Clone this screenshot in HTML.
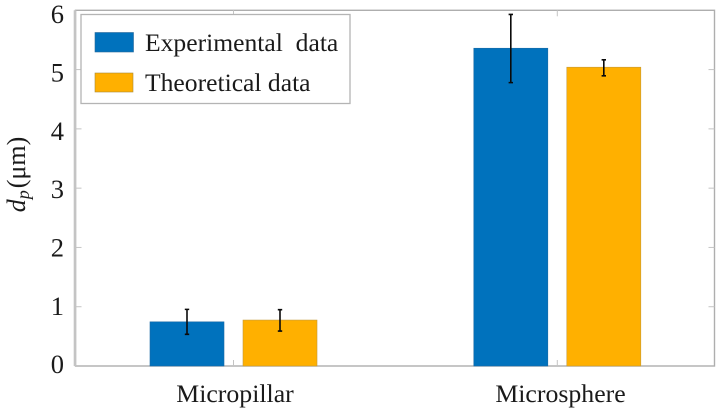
<!DOCTYPE html>
<html>
<head>
<meta charset="utf-8">
<style>
html,body{margin:0;padding:0;background:#fff;width:725px;height:410px;overflow:hidden}
svg{display:block;filter:blur(0.35px)}
text{font-family:"Liberation Serif",serif;fill:#1a1a1a}
</style>
</head>
<body>
<svg id="chart" width="725" height="410" viewBox="0 0 725 410" xmlns="http://www.w3.org/2000/svg">
<g id="plot"></g>
<g id="legend">
<rect x="81" y="14.5" width="269" height="89" fill="#fff" stroke="#b4b4b4" stroke-width="1.3"/>
<rect x="95" y="32.5" width="38.5" height="19.5" fill="#0072bd" stroke="#2a6a9a" stroke-width="0.6"/>
<text x="145" y="51" font-size="25.6" xml:space="preserve" style="white-space:pre">Experimental  data</text>
<rect x="95" y="73" width="38" height="19" fill="#ffb000" stroke="#a88a3a" stroke-width="0.6"/>
<text x="145" y="91" font-size="25.6">Theoretical data</text>
</g>
<text transform="translate(25,174.5) rotate(-90)" text-anchor="middle" font-size="26"><tspan font-style="italic">d</tspan><tspan font-style="italic" font-size="18" dy="4">p</tspan><tspan dy="-4" dx="2">(μm)</tspan></text>
</svg>
<script>
var categories = ["Micropillar", "Microsphere"];
var experimental = [0.745, 5.36];
var theoretical = [0.775, 5.04];
var experimentalLow = [0.535, 4.78];
var experimentalHigh = [0.955, 5.93];
var theoreticalLow = [0.59, 4.895];
var theoreticalHigh = [0.95, 5.165];
var yTicks = [0, 1, 2, 3, 4, 5, 6];

var svgNS = 'http://www.w3.org/2000/svg';
var plot = document.getElementById('plot');
var left = 75.5, right = 714.5, top_ = 10.3, bottom = 366;
var barW = 74, barOffset = 46.5;

function xPos(i) { return 233.5 + i * 323.8; }
function yPos(v) { return bottom - v * (bottom - top_) / 6; }
function yLabelCenter(v) { return 364.3 - v * 58.35; }
function make(tag, attrs) {
  var el = document.createElementNS(svgNS, tag);
  for (var k in attrs) { el.setAttribute(k, attrs[k]); }
  plot.appendChild(el);
  return el;
}
function drawLine(x1, y1, x2, y2, stroke, width, name) {
  var el = make('line', { x1: x1, y1: y1, x2: x2, y2: y2, stroke: stroke, 'stroke-width': width });
  
  
  return el;
}
function drawBar(cx, value, fill, stroke, name) {
  var el = make('rect', { x: cx - barW / 2, y: yPos(value), width: barW, height: bottom - yPos(value), fill: fill, stroke: stroke, 'stroke-width': 0.6 });
  
  
}
function drawError(cx, low, high, name) {
  var el = make('path', {
    d: 'M' + cx + ' ' + yPos(low) + 'V' + yPos(high) +
       'M' + (cx - 2.2) + ' ' + yPos(low) + 'H' + (cx + 2.2) +
       'M' + (cx - 2.2) + ' ' + yPos(high) + 'H' + (cx + 2.2),
    fill: 'none', stroke: '#0a0a0a', 'stroke-width': 1.6
  });
  
  
}

var frame = make('rect', { x: left, y: top_, width: right - left, height: bottom - top_, fill: '#fff', stroke: '#aeaeae', 'stroke-width': 1.4 });


drawLine(75, top_, 75, bottom, '#c4c4c4', 2.6, 'y-axis-line');

yTicks.forEach(function (t) {
  if (t > 0 && t < 6) {
    drawLine(left, yPos(t), left + 6, yPos(t), '#c4c4c4', 1, 'y-tick-left-' + t);
    drawLine(right - 6, yPos(t), right, yPos(t), '#c4c4c4', 1, 'y-tick-right-' + t);
  }
  var label = make('text', { x: 64, y: yLabelCenter(t) + 8.9, 'text-anchor': 'end', 'font-size': 26.5 });
  
  
  label.textContent = String(t);
});

categories.forEach(function (c, i) {
  var cx = xPos(i);
  drawLine(cx, bottom, cx, bottom - 6, '#c4c4c4', 1, 'x-tick-bottom-' + c.toLowerCase());
  drawLine(cx, top_, cx, top_ + 6, '#c4c4c4', 1, 'x-tick-top-' + c.toLowerCase());
  drawBar(cx - barOffset, experimental[i], '#0072bd', '#1a6aa5', 'bar-experimental-' + c.toLowerCase());
  drawBar(cx + barOffset, theoretical[i], '#ffb000', '#c49a3a', 'bar-theoretical-' + c.toLowerCase());
  drawError(cx - barOffset, experimentalLow[i], experimentalHigh[i], 'error-bar-experimental-' + c.toLowerCase());
  drawError(cx + barOffset, theoreticalLow[i], theoreticalHigh[i], 'error-bar-theoretical-' + c.toLowerCase());
  var label = make('text', { x: cx + 1.5 + 1.7 * i, y: 402, 'text-anchor': 'middle', 'font-size': 25.8 });
  
  
  label.textContent = c;
});
</script>
</body>
</html>
